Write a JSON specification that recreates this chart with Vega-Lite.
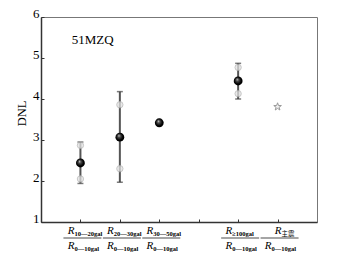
{
  "$schema": "https://vega.github.io/schema/vega-lite/v6.json",
  "width": 276,
  "height": 205,
  "autosize": {"type": "none"},
  "padding": {"left": 41, "top": 17, "right": 24, "bottom": 37},
  "background": "white",
  "config": {
    "view": {"stroke": "#777", "strokeWidth": 1},
    "font": "Liberation Serif",
    "axis": {
      "disable": false,
      "grid": false,
      "domain": true,
      "ticks": true,
      "tickSize": -3,
      "tickColor": "#333",
      "domainColor": "#333",
      "domainWidth": 1.5,
      "labelFont": "Liberation Serif",
      "labelFontSize": 13,
      "labelColor": "#000",
      "titleFont": "Liberation Serif",
      "titleFontSize": 12.5,
      "titleFontWeight": "normal",
      "titleColor": "#000"
    }
  },
  "datasets": {
    "ranges": [
      {"pos": 1, "lo": 1.94, "hi": 2.95},
      {"pos": 2, "lo": 1.97, "hi": 4.18},
      {"pos": 5, "lo": 4.0, "hi": 4.87}
    ],
    "samples": [
      {"pos": 1, "dnl": 2.87},
      {"pos": 1, "dnl": 2.05},
      {"pos": 2, "dnl": 3.86},
      {"pos": 2, "dnl": 2.3},
      {"pos": 5, "dnl": 4.77},
      {"pos": 5, "dnl": 4.13}
    ],
    "means": [
      {"pos": 1, "dnl": 2.44},
      {"pos": 2, "dnl": 3.07},
      {"pos": 3, "dnl": 3.42},
      {"pos": 5, "dnl": 4.44}
    ],
    "mainshock": [{"pos": 6, "dnl": 3.81}],
    "labels": [
      {"pos": 1, "num": "10—20gal", "den": "0—10gal"},
      {"pos": 2, "num": "20—30gal", "den": "0—10gal"},
      {"pos": 3, "num": "30—50gal", "den": "0—10gal"},
      {"pos": 5, "num": "≥100gal", "den": "0—10gal"},
      {"pos": 6, "num": "主震", "den": "0—10gal"}
    ],
    "station": [{"name": "51MZQ", "pos": 0.78, "dnl": 5.33}]
  },
  "layer": [
    {
      "data": {"name": "ranges"},
      "mark": {"type": "rule", "stroke": "#555", "strokeWidth": 2},
      "encoding": {
        "x": {
          "field": "pos",
          "type": "quantitative",
          "title": null,
          "scale": {"domain": [0, 7], "nice": false, "zero": false},
          "axis": {
            "disable": false,
            "values": [1, 2, 3, 4, 5, 6],
            "labels": false,
            "title": null,
            "grid": false,
            "ticks": true,
            "tickSize": -3,
            "tickWidth": 1,
            "tickColor": "#333",
            "domain": true,
            "domainColor": "#333",
            "domainWidth": 1.5,
            "zindex": 2
          }
        },
        "y": {
          "field": "lo",
          "type": "quantitative",
          "title": "DNL",
          "scale": {"domain": [1, 6], "nice": false, "zero": false},
          "axis": {
            "disable": false,
            "title": "DNL",
            "values": [1, 1.5, 2, 2.5, 3, 3.5, 4, 4.5, 5, 5.5, 6],
            "labelExpr": "datum.value % 1 === 0 ? datum.label : ''",
            "labelOverlap": false,
            "grid": false,
            "ticks": true,
            "tickSize": -3,
            "tickWidth": 1,
            "tickColor": "#333",
            "domain": true,
            "domainColor": "#333",
            "domainWidth": 1.5,
            "labelFont": "Liberation Serif",
            "labelFontSize": 13,
            "labelColor": "#000",
            "labelBaseline": "alphabetic",
            "labelPadding": 5,
            "titleFont": "Liberation Serif",
            "titleFontSize": 12.5,
            "titleFontWeight": "normal",
            "titleColor": "#000",
            "titlePadding": 4,
            "titleY": 96,
            "zindex": 2
          }
        },
        "y2": {"field": "hi"}
      }
    },
    {
      "data": {"name": "ranges"},
      "mark": {"type": "tick", "orient": "horizontal", "size": 6, "thickness": 1.5, "color": "#444"},
      "encoding": {
        "x": {"field": "pos", "type": "quantitative", "title": null},
        "y": {"field": "lo", "type": "quantitative", "title": "DNL"}
      }
    },
    {
      "data": {"name": "ranges"},
      "mark": {"type": "tick", "orient": "horizontal", "size": 6, "thickness": 1.5, "color": "#444"},
      "encoding": {
        "x": {"field": "pos", "type": "quantitative", "title": null},
        "y": {"field": "hi", "type": "quantitative", "title": "DNL"}
      }
    },
    {
      "data": {"name": "samples"},
      "mark": {"type": "point", "shape": "circle", "filled": true, "size": 40, "fill": "#e2e2e2", "stroke": "#b5b5b5", "strokeWidth": 1, "opacity": 0.75},
      "encoding": {
        "x": {"field": "pos", "type": "quantitative", "title": null},
        "y": {"field": "dnl", "type": "quantitative", "title": "DNL"}
      }
    },
    {
      "data": {"name": "means"},
      "mark": {
        "type": "point",
        "shape": "circle",
        "filled": true,
        "size": 78,
        "opacity": 1,
        "fill": {
          "gradient": "radial",
          "x1": 0.38, "y1": 0.32, "r1": 0,
          "x2": 0.5, "y2": 0.5, "r2": 0.55,
          "stops": [
            {"offset": 0, "color": "#ffffff"},
            {"offset": 0.25, "color": "#555555"},
            {"offset": 0.7, "color": "#000000"},
            {"offset": 1, "color": "#000000"}
          ]
        }
      },
      "encoding": {
        "x": {"field": "pos", "type": "quantitative", "title": null},
        "y": {"field": "dnl", "type": "quantitative", "title": "DNL"}
      }
    },
    {
      "data": {"name": "mainshock"},
      "mark": {
        "type": "point",
        "shape": "M0,-1L0.235,-0.324L0.951,-0.309L0.38,0.124L0.588,0.809L0,0.4L-0.588,0.809L-0.38,0.124L-0.951,-0.309L-0.235,-0.324Z",
        "filled": true,
        "size": 64,
        "fill": "#f0f0f0",
        "stroke": "#999",
        "strokeWidth": 1,
        "opacity": 1
      },
      "encoding": {
        "x": {"field": "pos", "type": "quantitative", "title": null},
        "y": {"field": "dnl", "type": "quantitative", "title": "DNL"}
      }
    },
    {
      "data": {"name": "station"},
      "mark": {"type": "text", "align": "left", "baseline": "alphabetic", "font": "Liberation Serif", "fontSize": 13, "color": "#000"},
      "encoding": {
        "x": {"field": "pos", "type": "quantitative", "title": null},
        "y": {"field": "dnl", "type": "quantitative", "title": "DNL"},
        "text": {"field": "name"}
      }
    },
    {
      "data": {"name": "labels"},
      "transform": [{"filter": "datum.pos < 6"}],
      "mark": {"type": "text", "text": "R", "align": "right", "baseline": "alphabetic", "font": "Liberation Serif", "fontStyle": "italic", "fontSize": 11, "dx": -6, "dy": 12, "color": "#000"},
      "encoding": {
        "x": {"field": "pos", "type": "quantitative", "title": null},
        "y": {"datum": 1, "type": "quantitative", "title": "DNL"}
      }
    },
    {
      "data": {"name": "labels"},
      "transform": [{"filter": "datum.pos < 6"}],
      "mark": {"type": "text", "align": "left", "baseline": "alphabetic", "font": "Liberation Serif", "fontWeight": "bold", "fontSize": 6.5, "dx": -6, "dy": 14, "color": "#000"},
      "encoding": {
        "x": {"field": "pos", "type": "quantitative", "title": null},
        "y": {"datum": 1, "type": "quantitative", "title": "DNL"},
        "text": {"field": "num"}
      }
    },
    {
      "data": {"name": "labels"},
      "transform": [{"filter": "datum.pos == 6"}],
      "mark": {"type": "text", "text": "R", "align": "right", "baseline": "alphabetic", "font": "Liberation Serif", "fontStyle": "italic", "fontSize": 11, "dx": 4, "dy": 12, "color": "#000"},
      "encoding": {
        "x": {"field": "pos", "type": "quantitative", "title": null},
        "y": {"datum": 1, "type": "quantitative", "title": "DNL"}
      }
    },
    {
      "data": {"name": "labels"},
      "transform": [{"filter": "datum.pos == 6"}],
      "mark": {"type": "text", "align": "left", "baseline": "alphabetic", "font": "Noto Sans CJK SC", "fontSize": 6.5, "dx": 4, "dy": 14, "color": "#000"},
      "encoding": {
        "x": {"field": "pos", "type": "quantitative", "title": null},
        "y": {"datum": 1, "type": "quantitative", "title": "DNL"},
        "text": {"field": "num"}
      }
    },
    {
      "data": {"name": "labels"},
      "mark": {"type": "tick", "orient": "horizontal", "size": 38, "thickness": 1, "color": "#000", "xOffset": 2, "yOffset": 16},
      "encoding": {
        "x": {"field": "pos", "type": "quantitative", "title": null},
        "y": {"datum": 1, "type": "quantitative", "title": "DNL"}
      }
    },
    {
      "data": {"name": "labels"},
      "mark": {"type": "text", "text": "R", "align": "right", "baseline": "alphabetic", "font": "Liberation Serif", "fontStyle": "italic", "fontSize": 11, "dx": -6, "dy": 26.5, "color": "#000"},
      "encoding": {
        "x": {"field": "pos", "type": "quantitative", "title": null},
        "y": {"datum": 1, "type": "quantitative", "title": "DNL"}
      }
    },
    {
      "data": {"name": "labels"},
      "mark": {"type": "text", "align": "left", "baseline": "alphabetic", "font": "Liberation Serif", "fontWeight": "bold", "fontSize": 6.5, "dx": -6, "dy": 29, "color": "#000"},
      "encoding": {
        "x": {"field": "pos", "type": "quantitative", "title": null},
        "y": {"datum": 1, "type": "quantitative", "title": "DNL"},
        "text": {"field": "den"}
      }
    }
  ]
}
